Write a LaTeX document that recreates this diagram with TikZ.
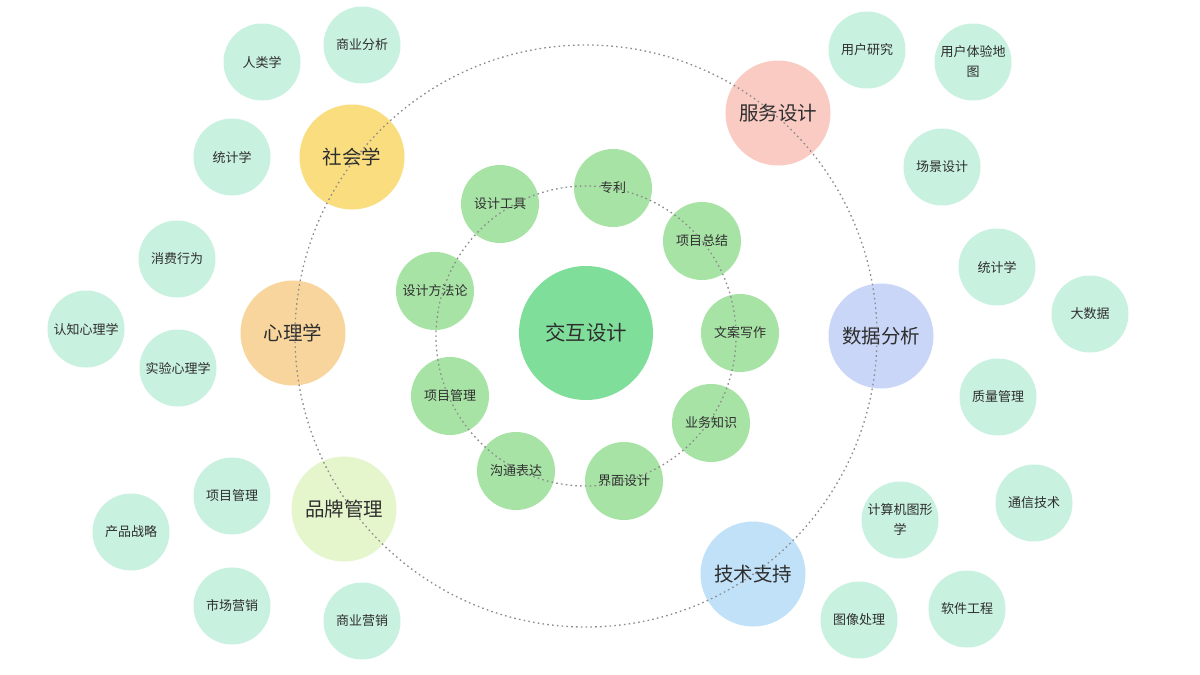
\documentclass[tikz,border=0pt]{standalone}
\usepackage{fontspec}
\setmainfont{Noto Sans CJK SC}
\definecolor{mint}{HTML}{C9F1E0}
\definecolor{innerg}{HTML}{A8E3A6}
\definecolor{centerg}{HTML}{80DE9B}
\definecolor{cyellow}{HTML}{F9DD7E}
\definecolor{corange}{HTML}{F9D59E}
\definecolor{clime}{HTML}{E6F6CC}
\definecolor{cpink}{HTML}{F9CBC3}
\definecolor{clav}{HTML}{C9D6F7}
\definecolor{cblue}{HTML}{C0E1F8}
\definecolor{txt}{HTML}{2E2E2E}
\definecolor{dots}{HTML}{8C8C8C}
\tikzset{
  base/.style={circle, inner sep=0pt, text=txt, align=center},
  leaf/.style={base, fill=mint, minimum size=77pt, font=\fontsize{13}{20}\selectfont},
  inner/.style={base, fill=innerg, minimum size=78pt, font=\fontsize{13}{20}\selectfont},
  cat/.style={base, minimum size=105pt, font=\fontsize{19.5}{23}\selectfont},
  core/.style={base, fill=centerg, minimum size=134pt, font=\fontsize{20.5}{24}\selectfont},
  ring/.style={draw=dots, line width=1.3pt, dash pattern=on 1.6pt off 3.2pt}
}
\begin{document}
\begin{tikzpicture}[x=1pt,y=-1pt]
\useasboundingbox (0,0) rectangle (1200,675);
\fill[white] (0,0) rectangle (1200,675);
% center
\node[core] (core) at (586,333) {交互设计};
% inner ring
\node[inner] (i1) at (613,188) {专利};
\node[inner] (i2) at (702,241) {项目总结};
\node[inner] (i3) at (740,333) {文案写作};
\node[inner] (i4) at (711,423) {业务知识};
\node[inner] (i5) at (624,481) {界面设计};
\node[inner] (i6) at (516,471) {沟通表达};
\node[inner] (i7) at (450,396) {项目管理};
\node[inner] (i8) at (435,291) {设计方法论};
\node[inner] (i9) at (500,204) {设计工具};
% categories
\node[cat, fill=cyellow] (c1) at (352,157) {社会学};
\node[cat, fill=corange] (c2) at (293,333) {心理学};
\node[cat, fill=clime] (c3) at (344,509) {品牌管理};
\node[cat, fill=cpink] (c4) at (778,113) {服务设计};
\node[cat, fill=clav] (c5) at (881,336) {数据分析};
\node[cat, fill=cblue] (c6) at (753,574) {技术支持};
% leaves
\node[leaf] (l1) at (262,62) {人类学};
\node[leaf] (l2) at (362,45) {商业分析};
\node[leaf] (l3) at (232,157) {统计学};
\node[leaf] (l4) at (177,259) {消费行为};
\node[leaf] (l5) at (86,329) {认知心理学};
\node[leaf] (l6) at (178,368) {实验心理学};
\node[leaf] (l7) at (232,496) {项目管理};
\node[leaf] (l8) at (131,532) {产品战略};
\node[leaf] (l9) at (232,606) {市场营销};
\node[leaf] (l10) at (362,621) {商业营销};
\node[leaf] (r1) at (867,50) {用户研究};
\node[leaf] (r2) at (973,62) {用户体验地\\图};
\node[leaf] (r3) at (942,167) {场景设计};
\node[leaf] (r4) at (997,267) {统计学};
\node[leaf] (r5) at (1090,314) {大数据};
\node[leaf] (r6) at (998,397) {质量管理};
\node[leaf] (r7) at (1034,503) {通信技术};
\node[leaf] (r8) at (900,520) {计算机图形\\学};
\node[leaf] (r9) at (859,620) {图像处理};
\node[leaf] (r10) at (967,609) {软件工程};
% rings
\coordinate (rc) at (586,336);
\draw[ring] (rc) circle[radius=150];
\draw[ring] (rc) circle[radius=291];
\end{tikzpicture}
\end{document}
